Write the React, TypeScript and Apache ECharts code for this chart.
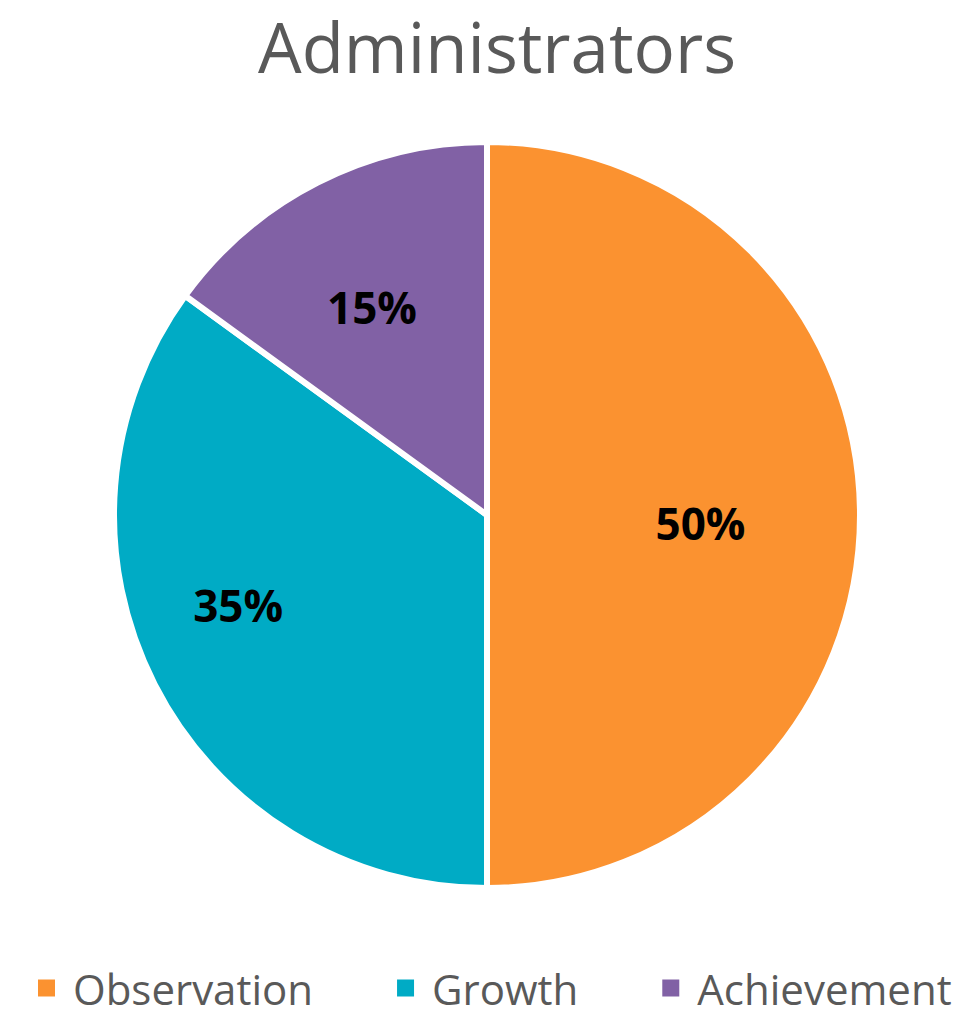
import React, { useEffect, useRef } from "react";
import * as echarts from "echarts";

const titleText = "Administrators";
const categories = ["Observation", "Growth", "Achievement"];
const values = [50, 35, 15];
const colors = ["#FB9230", "#00ABC5", "#8161A5"];

export default function App() {
  const ref = useRef<HTMLDivElement>(null);
  useEffect(() => {
    document.body.style.margin = "0";
    const chart = echarts.init(ref.current!, null, { renderer: "svg" });
    const offsets = [
      [24, 8],
      [-80, 4],
      [-29, -39],
    ];
    chart.setOption({
      animation: false,
      backgroundColor: "#ffffff",
      title: {
        text: titleText,
        left: 258,
        top: 11,
        padding: 0,
        textStyle: {
          fontFamily: "Open Sans",
          fontSize: 69,
          fontWeight: "normal",
          color: "#595959",
        },
      },
      legend: {
        top: 967,
        left: 36,
        padding: 0,
        itemWidth: 19,
        itemHeight: 19,
        itemGap: 82,
        icon: "rect",
        data: categories,
        textStyle: {
          fontFamily: "Open Sans",
          fontSize: 42,
          color: "#595959",
          padding: [0, 0, 0, 12],
        },
      },
      series: [
        {
          type: "pie",
          center: [487, 515],
          radius: 373,
          startAngle: 90,
          clockwise: true,
          silent: true,
          itemStyle: { borderColor: "#ffffff", borderWidth: 6 },
          label: {
            show: true,
            position: "inside",
            formatter: "{c}%",
            fontFamily: "Open Sans",
            fontWeight: "bold",
            fontSize: 44,
            color: "#000000",
          },
          labelLine: { show: false },
          data: categories.map((name, i) => ({
            name,
            value: values[i],
            itemStyle: { color: colors[i] },
            label: { offset: offsets[i] },
          })),
        },
      ],
    });
    return () => chart.dispose();
  }, []);
  return <div ref={ref} style={{ width: 973, height: 1018 }} />;
}
